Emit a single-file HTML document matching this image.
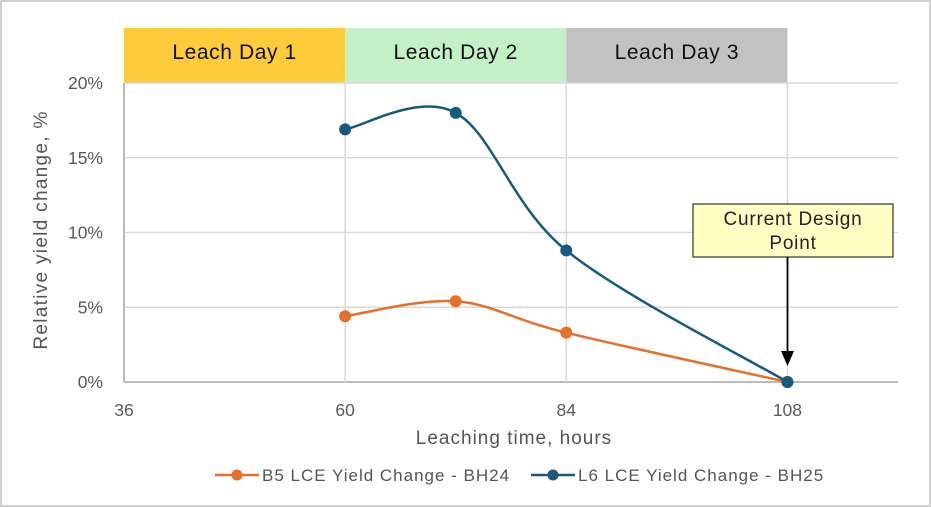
<!DOCTYPE html>
<html><head><meta charset="utf-8"><style>
html,body{margin:0;padding:0;background:#fff;}
svg{display:block;font-family:"Liberation Sans",sans-serif;}
</style></head><body>
<svg id="chart" width="931" height="507" viewBox="0 0 931 507">
<rect x="1" y="1" width="929" height="505" fill="#fff" stroke="#d0d0d0" stroke-width="2"/>
<g id="bands"></g>
<g id="grid"></g>
<g id="series"></g>
<g id="labels"></g>
<g>
<rect x="693" y="204" width="200" height="53" fill="#ffffc4" stroke="#333" stroke-width="1.2"/>
<text x="793" y="225" text-anchor="middle" font-size="19" letter-spacing="0.8" fill="#222">Current Design</text>
<text x="793" y="249" text-anchor="middle" font-size="19" letter-spacing="0.8" fill="#222">Point</text>
<line x1="787.5" y1="257" x2="787.5" y2="352" stroke="#000" stroke-width="1.8"/>
<polygon points="781,351 794,351 787.5,366" fill="#000"/>
</g>
<text x="514" y="444" text-anchor="middle" font-size="19" letter-spacing="1" fill="#555">Leaching time, hours</text>
<text transform="translate(47,230) rotate(-90)" text-anchor="middle" font-size="19" letter-spacing="1.3" fill="#555">Relative yield change, %</text>
<g>
<line x1="215" y1="475" x2="259" y2="475" stroke="#e5702a" stroke-width="2.5"/>
<circle cx="237" cy="475" r="5.5" fill="#e5702a"/>
<text x="262" y="481" font-size="17" letter-spacing="1" fill="#555">B5 LCE Yield Change - BH24</text>
<line x1="531" y1="475" x2="575" y2="475" stroke="#185a7d" stroke-width="2.5"/>
<circle cx="553" cy="475" r="5.5" fill="#185a7d"/>
<text x="578" y="481" font-size="17" letter-spacing="1" fill="#555">L6 LCE Yield Change - BH25</text>
</g>
</svg>
<script>
const xTicks=[36,60,84,108];
const yTicks=[0,5,10,15,20];
const yTickLabels=["0%","5%","10%","15%","20%"];
const hours=[60,72,84,108];
const b5Values=[4.4,5.4,3.3,0];
const l6Values=[16.9,18.0,8.8,0];
const bandStarts=[36,60,84];
const bandEnds=[60,84,108];
const bandLabels=["Leach Day 1","Leach Day 2","Leach Day 3"];
const bandColors=["#fecb3a","#c4f0c8","#c2c2c2"];
const X0=124,X1=898,Y0=382,Y1=83,XMIN=36,XMAX=120,YMIN=0,YMAX=20;
const sx=v=>X0+(v-XMIN)/(XMAX-XMIN)*(X1-X0);
const sy=v=>Y0-(v-YMIN)/(YMAX-YMIN)*(Y0-Y1);
const NS="http://www.w3.org/2000/svg";
function mk(tag,attrs,parent,text){const e=document.createElementNS(NS,tag);for(const k in attrs)e.setAttribute(k,attrs[k]);if(text!==undefined)e.textContent=text;document.getElementById(parent).appendChild(e);return e;}
bandLabels.forEach((l,i)=>{
 const r=mk('rect',{x:sx(bandStarts[i]),y:28,width:sx(bandEnds[i])-sx(bandStarts[i]),height:Y1-28,fill:bandColors[i]},'bands');
 
 
 const t=mk('text',{x:(sx(bandStarts[i])+sx(bandEnds[i]))/2,y:59,'text-anchor':'middle','font-size':21,'letter-spacing':0.6,fill:'#111'},'bands',l);
 
 
});
yTicks.forEach((v,i)=>{
 const g=mk('line',{x1:X0,x2:X1,y1:sy(v),y2:sy(v),stroke:i===0?'#bbb':'#d9d9d9','stroke-width':i===0?2:1.5},'grid');
 
 
 const t=mk('text',{x:103,y:sy(v)+6,'text-anchor':'end','font-size':17.5,fill:'#595959'},'labels',yTickLabels[i]);
 
 
});
xTicks.forEach((v,i)=>{
 const g=mk('line',{x1:sx(v),x2:sx(v),y1:Y1,y2:Y0,stroke:i===0?'#bbb':'#d9d9d9','stroke-width':i===0?2:1.5},'grid');
 
 
 const t=mk('text',{x:sx(v),y:416,'text-anchor':'middle','font-size':17.5,fill:'#595959'},'labels',String(v));
 
 
});
function smooth(pts){
 let d=`M${pts[0][0]},${pts[0][1]}`;
 for(let i=0;i<pts.length-1;i++){
  const p0=pts[i-1]||pts[i],p1=pts[i],p2=pts[i+1],p3=pts[i+2]||p2;
  const t=1/6;
  const c1=[p1[0]+(p2[0]-p0[0])*t,p1[1]+(p2[1]-p0[1])*t];
  const c2=[p2[0]-(p3[0]-p1[0])*t,p2[1]-(p3[1]-p1[1])*t];
  d+=` C${c1[0]},${c1[1]} ${c2[0]},${c2[1]} ${p2[0]},${p2[1]}`;
 }
 return d;
}
[[b5Values,'#e5702a','b5'],[l6Values,'#185a7d','l6']].forEach(([vals,col,nm])=>{
 const pts=hours.map((h,i)=>[sx(h),sy(vals[i])]);
 const p=mk('path',{d:smooth(pts),fill:'none',stroke:col,'stroke-width':2.5},'series');
 
 
 pts.forEach(q=>{
  const c=mk('circle',{cx:q[0],cy:q[1],r:6,fill:col},'series');
  
  
 });
});
</script>
</body></html>
